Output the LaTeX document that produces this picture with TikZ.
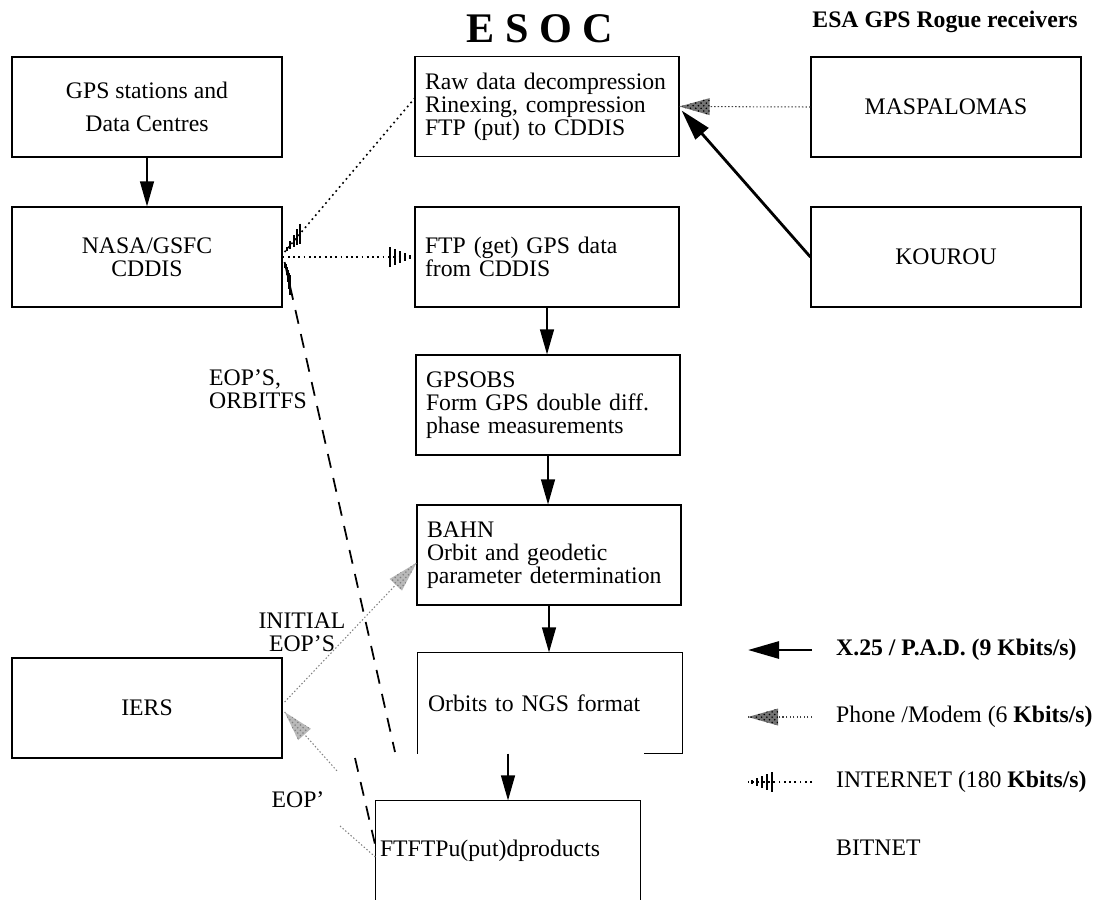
\documentclass[tikz,border=0pt]{standalone}
\usepackage{fontspec}
\setmainfont{Liberation Serif}
\usetikzlibrary{arrows.meta,calc,patterns}

\tikzset{
  every node/.style={font=\fontsize{13.5}{13}\selectfont},
  stage/.style={draw,line width=0.7pt,inner sep=0pt,minimum width=5.4cm,minimum height=2cm,align=center},
  esocstage/.style={stage,align=left,text width=4.88cm,inner xsep=0.2cm,minimum width=5.28cm},
  flow/.style={-{Triangle[length=0.5cm,width=0.28cm]},line width=0.7pt},
  x25/.style={-{Triangle[length=0.62cm,width=0.34cm]},line width=1.6pt},
  netline/.style={line width=0.9pt,dash pattern=on 1pt off 2pt},
  bitnetline/.style={line width=1pt,dash pattern=on 8pt off 6pt},
  modemline/.style={gray,line width=0.6pt,dash pattern=on 0.8pt off 1.2pt}
}

% bars of the INTERNET head, tip at #1
\newcommand\netbars[2]{%
  \foreach \d/\h in {4/2,9/4,14/6,19/8,24/10}
    \draw[line width=1.2pt] ($(#1)!\d*0.02cm!(#2)$) ++(0,-\h) -- ++(0,2*\h);
}
% stippled head of the phone/modem link, tip at #1
\newcommand\stiphead[3]{%
  \coordinate (sb) at ($(#1)!0.6cm!(#2)$);
  \path[fill=#3!55] (#1) -- ($(sb)!0.17cm!90:(#1)$) -- ($(sb)!0.17cm!-90:(#1)$) -- cycle;
  \path[pattern=crosshatch dots,pattern color=#3] (#1) -- ($(sb)!0.17cm!90:(#1)$) -- ($(sb)!0.17cm!-90:(#1)$) -- cycle;
}

\begin{document}
\begin{tikzpicture}[x=0.02cm,y=-0.02cm]
\useasboundingbox (0,0) rectangle (1098,899);

\node[font=\fontsize{24}{26}\selectfont\bfseries] (esoc) at (540,29) {E S O C};
\node[font=\fontsize{13.5}{14}\selectfont\bfseries] (esa) at (945,22) {ESA GPS Rogue receivers};

\node[stage] (gps) at (147,107) {GPS stations and\\[6pt]Data Centres};
\node[stage] (nasa) at (147,257) {NASA/GSFC\\CDDIS};
\node[stage] (ierss) at (147,708) {IERS};
\node[stage] (mas) at (946,107) {MASPALOMAS};
\node[stage] (kourou) at (946,257) {KOUROU};

\node[esocstage] (raw) at (547,106.5) {Raw data decompression\\Rinexing, compression\\FTP (put) to CDDIS};
\node[esocstage] (ftpget) at (547,257) {FTP (get) GPS data\\from CDDIS};
\node[esocstage] (gpsobs) at (548,405) {GPSOBS\\Form GPS double diff.\\phase measurements};
\node[esocstage] (bahn) at (549,555) {BAHN\\Orbit and geodetic\\parameter determination};
\node[esocstage,draw=none] (orbits) at (550,703) {Orbits to NGS format};
\node[esocstage,draw=none,inner xsep=0.08cm,text width=5.12cm] (ftpput) at (508,851) {FTFTPu(put)dproducts};

\draw[line width=0.7pt] (orbits.south west) -- (orbits.north west) -- (orbits.north east) -- (orbits.south east) -- ++(-39,0);
\draw[line width=0.7pt] (ftpput.south west) -- (ftpput.north west) -- (ftpput.north east) -- (ftpput.south east);

\draw[flow] (gps) -- (nasa);
\draw[flow] (ftpget.south) -- (ftpget.south |- gpsobs.north);
\draw[flow] (gpsobs.south) -- (gpsobs.south |- bahn.north);
\draw[flow] (bahn.south) -- (bahn.south |- orbits.north);
\draw[flow] (ftpput.north |- orbits.south) -- (ftpput.north);

\draw[x25] (kourou.west) -- ($(raw.east)+(2,4)$);
\draw[modemline,black!75] (mas.west) -- (raw.east);
\stiphead{raw.east}{mas.west}{black}

\coordinate (nr) at ($(nasa.east)+(2,-5)$);
\coordinate (rawin) at ($(raw.west)+(0,-8)$);
\draw[netline] (nr) -- (rawin);
\netbars{nr}{rawin}
\draw[netline] (nasa.east) -- (ftpget.west);
\netbars{ftpget.west}{nasa.east}

\coordinate (nd) at ($(nasa.east)+(2,5)$);
\coordinate (da) at (395,752);
\coordinate (db) at (355,758);
\draw[bitnetline] (nd) -- (da);
\draw[bitnetline] (db) -- ($(ftpput.west)+(0,-5)$);
\netbars{nd}{da}

\coordinate (ie1) at ($(ierss.east)+(2,-6)$);
\coordinate (bahnin) at ($(bahn.west)+(0,8)$);
\draw[modemline] (ie1) -- (bahnin);
\stiphead{bahnin}{ie1}{gray}
\coordinate (ie2) at ($(ierss.east)+(2,4)$);
\coordinate (e1) at (338,772);
\coordinate (e2) at (340,826);
\draw[modemline] (ie2) -- (e1);
\draw[modemline] (e2) -- ($(ftpput.west)+(0,6)$);
\stiphead{ie2}{e1}{gray}

\node[align=left,font=\fontsize{13.5}{13}\selectfont] (orblbl) at (258,389) {EOP'S,\\ORBITFS};
\node[align=center,font=\fontsize{13.5}{13}\selectfont] (initlbl) at (302,632) {INITIAL\\EOP'S};
\node (eoplbl) at (298,800) {EOP'};

% legend
\coordinate (k1a) at (812,650); \coordinate (k1b) at (748,650);
\coordinate (k2a) at (812,717); \coordinate (k2b) at (748,717);
\coordinate (k3a) at (812,782); \coordinate (k3b) at (748,782);
\draw[x25] (k1a) -- (k1b);
\draw[modemline,black!75] (k2a) -- (k2b);
\stiphead{k2b}{k2a}{black}
\draw[netline] (k3a) -- (k3b);
\netbars{k3b}{k3a}
\node[anchor=west,font=\fontsize{13.5}{13}\selectfont\bfseries] (lx25) at (830,650) {X.25 / P.A.D. (9 Kbits/s)};
\node[anchor=west] (lphone) at (830,717) {Phone /Modem (6 \textbf{Kbits/s)}};
\node[anchor=west] (lnet) at (830,782) {INTERNET (180 \textbf{Kbits/s)}};
\node[anchor=west] (lbit) at (830,848) {BITNET};
\end{tikzpicture}
\end{document}
